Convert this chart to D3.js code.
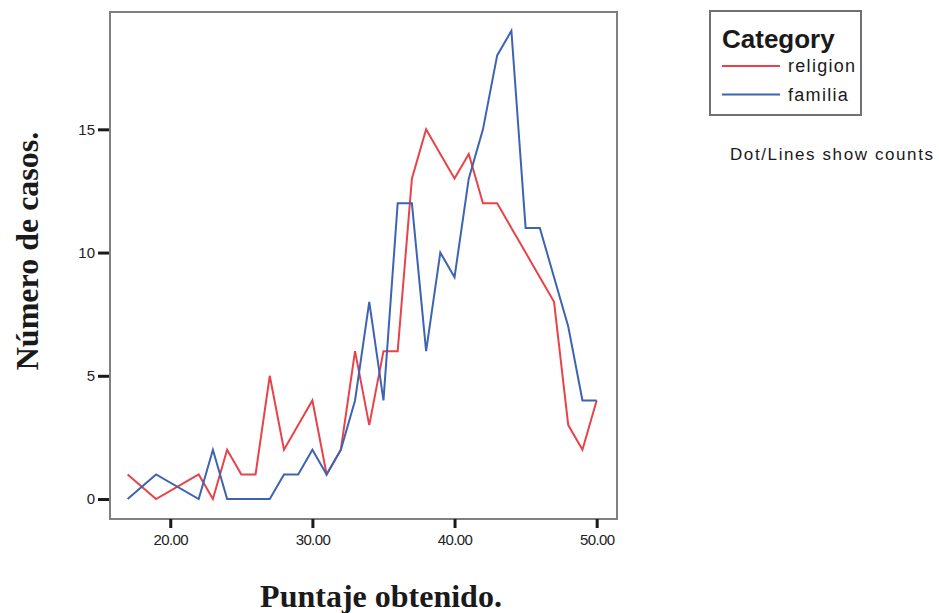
<!DOCTYPE html>
<html>
<head>
<meta charset="utf-8">
<script src="https://cdn.jsdelivr.net/npm/d3@7"></script>
<style>
  html, body { margin: 0; padding: 0; background: #ffffff; }
  svg { display: block; }
</style>
</head>
<body>
<svg id="chart" width="939" height="613"></svg>
<script>
// Data
const scores = [17, 19, 22, 23, 24, 25, 26, 27, 28, 29, 30, 31, 32, 33, 34, 35, 36, 37, 38, 39, 40, 41, 42, 43, 44, 45, 46, 47, 48, 49, 50];
const religion = [1, 0, 1, 0, 2, 1, 1, 5, 2, 3, 4, 1, 2, 6, 3, 6, 6, 13, 15, 14, 13, 14, 12, 12, 11, 10, 9, 8, 3, 2, 4];
const familia  = [0, 1, 0, 2, 0, 0, 0, 0, 1, 1, 2, 1, 2, 4, 8, 4, 12, 12, 6, 10, 9, 13, 15, 18, 19, 11, 11, 9, 7, 4, 4];
const seriesNames = ["religion", "familia"];
const seriesColors = ["#e8434a", "#3d63b3"];
const xTicks = [20, 30, 40, 50];
const yTicks = [0, 5, 10, 15];
const xTitle = "Puntaje obtenido.";
const yTitle = "Número de casos.";
const legendTitle = "Category";
const note = "Dot/Lines show counts";

const svg = d3.select("#chart");
const frame = { left: 110, right: 617, top: 12, bottom: 519 };

const x = d3.scaleLinear().domain([15.76, 51.43]).range([frame.left, frame.right]);
const y = d3.scaleLinear().domain([-0.81, 19.76]).range([frame.bottom, frame.top]);

// plot frame
svg.append("rect")
  .attr("x", frame.left).attr("y", frame.top)
  .attr("width", frame.right - frame.left).attr("height", frame.bottom - frame.top)
  .attr("fill", "#ffffff").attr("stroke", "#808080").attr("stroke-width", 2);

// axes
const xAxis = d3.axisBottom(x).tickValues(xTicks).tickFormat(d3.format(".2f")).tickSize(9).tickPadding(6);
const gx = svg.append("g").attr("transform", `translate(0,${frame.bottom})`).call(xAxis);
gx.select(".domain").remove();
gx.selectAll(".tick line").attr("stroke", "#1a1a1a").attr("stroke-width", 3);
gx.selectAll(".tick text").attr("fill", "#222").style("font-family", "Arial, 'Liberation Sans', sans-serif")
  .style("font-size", "15px").style("letter-spacing", "-0.6px");

const yAxis = d3.axisLeft(y).tickValues(yTicks).tickFormat(d3.format("d")).tickSize(11).tickPadding(3);
const gy = svg.append("g").attr("transform", `translate(${frame.left - 1},0)`).call(yAxis);
gy.select(".domain").remove();
gy.selectAll(".tick line").attr("stroke", "#1a1a1a").attr("stroke-width", 3);
gy.selectAll(".tick text").attr("fill", "#222").style("font-family", "Arial, 'Liberation Sans', sans-serif")
  .style("font-size", "15px");

// lines
const allSeries = [religion, familia];
const line = d3.line().x(d => x(d[0])).y(d => y(d[1]));
allSeries.forEach((vals, i) => {
  svg.append("path")
    .datum(scores.map((s, j) => [s, vals[j]]))
    .attr("d", line)
    .attr("fill", "none")
    .attr("stroke", seriesColors[i])
    .attr("stroke-width", 2)
    .attr("stroke-linejoin", "miter");
});

// axis titles
svg.append("text")
  .attr("x", 381).attr("y", 607)
  .attr("text-anchor", "middle")
  .style("font-family", "'Times New Roman', 'Liberation Serif', serif")
  .style("font-weight", "bold").style("font-size", "32px").attr("fill", "#1a1a1a")
  .text(xTitle);

svg.append("text")
  .attr("transform", "translate(38,251) rotate(-90)")
  .attr("text-anchor", "middle")
  .style("font-family", "'Times New Roman', 'Liberation Serif', serif")
  .style("font-weight", "bold").style("font-size", "32px").attr("fill", "#1a1a1a")
  .text(yTitle);

// legend
const lg = svg.append("g");
lg.append("rect").attr("x", 710).attr("y", 11).attr("width", 151).attr("height", 104)
  .attr("fill", "#ffffff").attr("stroke", "#707070").attr("stroke-width", 2);
lg.append("text").attr("x", 722).attr("y", 48)
  .style("font-family", "Arial, 'Liberation Sans', sans-serif").style("font-weight", "bold")
  .style("font-size", "26px").attr("fill", "#1a1a1a").text(legendTitle);
seriesNames.forEach((name, i) => {
  const yy = 66 + i * 28.5;
  lg.append("line").attr("x1", 722).attr("x2", 780).attr("y1", yy).attr("y2", yy)
    .attr("stroke", seriesColors[i]).attr("stroke-width", 2);
  lg.append("text").attr("x", 788).attr("y", yy + 6)
    .style("font-family", "Arial, 'Liberation Sans', sans-serif")
    .style("font-size", "18px").style("letter-spacing", "1.3px").attr("fill", "#1a1a1a").text(name);
});

svg.append("text").attr("x", 730).attr("y", 160)
  .style("font-family", "Arial, 'Liberation Sans', sans-serif")
  .style("font-size", "17px").attr("textLength", 203).attr("fill", "#1a1a1a").text(note);
</script>
</body>
</html>
